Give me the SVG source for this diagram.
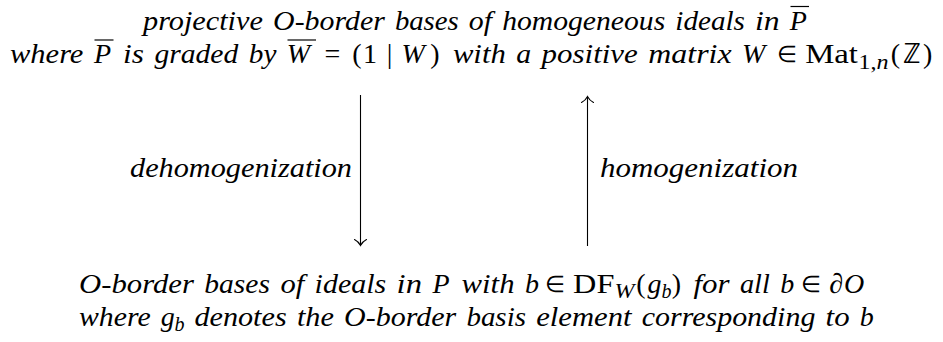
<svg xmlns="http://www.w3.org/2000/svg" width="943" height="342" viewBox="0 0 943 342">
<style>
text{font-family:"Liberation Serif","Times New Roman",serif;font-size:28px;fill:#000;font-style:italic}
.u{font-style:normal}
.c{text-anchor:middle}
.s{font-size:20px}
.el{font-size:23px;font-style:normal;text-anchor:middle}
.ov{stroke:#000;stroke-width:1.2}
.arr{stroke:#000;stroke-width:1.1;fill:none}
.head{stroke:#000;stroke-width:1.1;fill:none;stroke-linecap:round}
</style>
<rect width="943" height="342" fill="#fff"/>
<g id="top-node">
<g id="top-line1">
<text x="143" y="30" textLength="119.9" lengthAdjust="spacingAndGlyphs">projective</text>
<text x="273.1" y="30" textLength="111.7" lengthAdjust="spacingAndGlyphs">O-border</text>
<text x="394.9" y="30" textLength="63.8" lengthAdjust="spacingAndGlyphs">bases</text>
<text x="468.8" y="30" textLength="23.2" lengthAdjust="spacingAndGlyphs">of</text>
<text x="502.2" y="30" textLength="163" lengthAdjust="spacingAndGlyphs">homogeneous</text>
<text x="675.3" y="30" textLength="69.6" lengthAdjust="spacingAndGlyphs">ideals</text>
<text x="755" y="30" textLength="24.6" lengthAdjust="spacingAndGlyphs">in</text>
<text x="789.8" y="30">P</text>
<line class="ov" x1="790.5" y1="6.5" x2="809" y2="6.5"/>
</g>
<g id="top-line2">
<text x="10" y="63" textLength="73.4" lengthAdjust="spacingAndGlyphs">where</text>
<text x="93.9" y="63">P</text>
<line class="ov" x1="94.5" y1="40" x2="113.5" y2="40"/>
<text x="123.1" y="63" textLength="20.9" lengthAdjust="spacingAndGlyphs">is</text>
<text x="154.4" y="63" textLength="83.9" lengthAdjust="spacingAndGlyphs">graded</text>
<text x="248.8" y="63" textLength="27.6" lengthAdjust="spacingAndGlyphs">by</text>
<text x="286.8" y="63">W</text>
<line class="ov" x1="287.5" y1="40" x2="316" y2="40"/>
<text class="u c" x="332.5" y="63">=</text>
<text class="u c" x="357" y="63">(</text>
<text class="u c" x="370" y="63">1</text>
<text class="u c" x="389.5" y="63">|</text>
<text x="401.5" y="63">W</text>
<text class="u c" x="434.8" y="63">)</text>
<text x="452.9" y="63" textLength="52.9" lengthAdjust="spacingAndGlyphs">with</text>
<text x="516.3" y="63" textLength="14.9" lengthAdjust="spacingAndGlyphs">a</text>
<text x="541.6" y="63" textLength="96.2" lengthAdjust="spacingAndGlyphs">positive</text>
<text x="648.3" y="63" textLength="83.3" lengthAdjust="spacingAndGlyphs">matrix</text>
<text x="742" y="63">W</text>
<text class="el" x="787.4" y="62">∈</text>
<text class="u" x="805.2" y="63" textLength="52.8" lengthAdjust="spacingAndGlyphs">Mat</text>
<text class="u s" x="858.5" y="69" textLength="30" lengthAdjust="spacingAndGlyphs">1,<tspan font-style="italic">n</tspan></text>
<text class="u c" x="895.5" y="63">(</text>
<text class="u c" x="911.5" y="63">ℤ</text>
<text class="u c" x="927.6" y="63">)</text>
</g>
</g>
<g id="bottom-node">
<g id="bottom-line1">
<text x="79" y="293" textLength="114.9" lengthAdjust="spacingAndGlyphs">O-border</text>
<text x="204.3" y="293" textLength="65.6" lengthAdjust="spacingAndGlyphs">bases</text>
<text x="280.4" y="293" textLength="23.8" lengthAdjust="spacingAndGlyphs">of</text>
<text x="314.6" y="293" textLength="71.6" lengthAdjust="spacingAndGlyphs">ideals</text>
<text x="396.6" y="293" textLength="25.4" lengthAdjust="spacingAndGlyphs">in</text>
<text x="432.4" y="293">P</text>
<text x="461.6" y="293" textLength="52.9" lengthAdjust="spacingAndGlyphs">with</text>
<text x="524.9" y="293">b</text>
<text class="el" x="555.2" y="292">∈</text>
<text class="u" x="573.1" y="293" textLength="41.3" lengthAdjust="spacingAndGlyphs">DF</text>
<text class="s" x="614.4" y="298" textLength="20" lengthAdjust="spacingAndGlyphs">W</text>
<text class="u c" x="641" y="293">(</text>
<text x="647.6" y="293">g</text>
<text class="s" x="661.5" y="298">b</text>
<text class="u c" x="676.3" y="293">)</text>
<text x="693.4" y="293" textLength="36.1" lengthAdjust="spacingAndGlyphs">for</text>
<text x="740" y="293" textLength="29.8" lengthAdjust="spacingAndGlyphs">all</text>
<text x="780.2" y="293">b</text>
<text class="el" x="810.6" y="292">∈</text>
<text class="c" x="836.1" y="293">∂</text>
<text x="843.9" y="293">O</text>
</g>
<g id="bottom-line2">
<text x="79" y="326" textLength="71.6" lengthAdjust="spacingAndGlyphs">where</text>
<text x="160.8" y="326">g</text>
<text class="s" x="174.4" y="331">b</text>
<text x="194.4" y="326" textLength="92.3" lengthAdjust="spacingAndGlyphs">denotes</text>
<text x="296.9" y="326" textLength="37" lengthAdjust="spacingAndGlyphs">the</text>
<text x="344.1" y="326" textLength="112.1" lengthAdjust="spacingAndGlyphs">O-border</text>
<text x="466.4" y="326" textLength="59.6" lengthAdjust="spacingAndGlyphs">basis</text>
<text x="536.2" y="326" textLength="95.3" lengthAdjust="spacingAndGlyphs">element</text>
<text x="641.7" y="326" textLength="173.7" lengthAdjust="spacingAndGlyphs">corresponding</text>
<text x="825.6" y="326" textLength="24" lengthAdjust="spacingAndGlyphs">to</text>
<text x="859.8" y="326">b</text>
</g>
</g>
<g id="connectors">
<g id="dehomogenization">
<line class="arr" x1="360.5" y1="95" x2="360.5" y2="245"/>
<path class="head" d="M354.5,239.5 Q358.5,241.5 360.5,245.5 Q362.5,241.5 366.5,239.5"/>
<text x="130" y="177" textLength="222" lengthAdjust="spacingAndGlyphs">dehomogenization</text>
</g>
<g id="homogenization">
<line class="arr" x1="587.5" y1="246" x2="587.5" y2="97"/>
<path class="head" d="M581.5,102.5 Q585.5,100.5 587.5,96.5 Q589.5,100.5 593.5,102.5"/>
<text x="600" y="177" textLength="198" lengthAdjust="spacingAndGlyphs">homogenization</text>
</g>
</g>
</svg>
